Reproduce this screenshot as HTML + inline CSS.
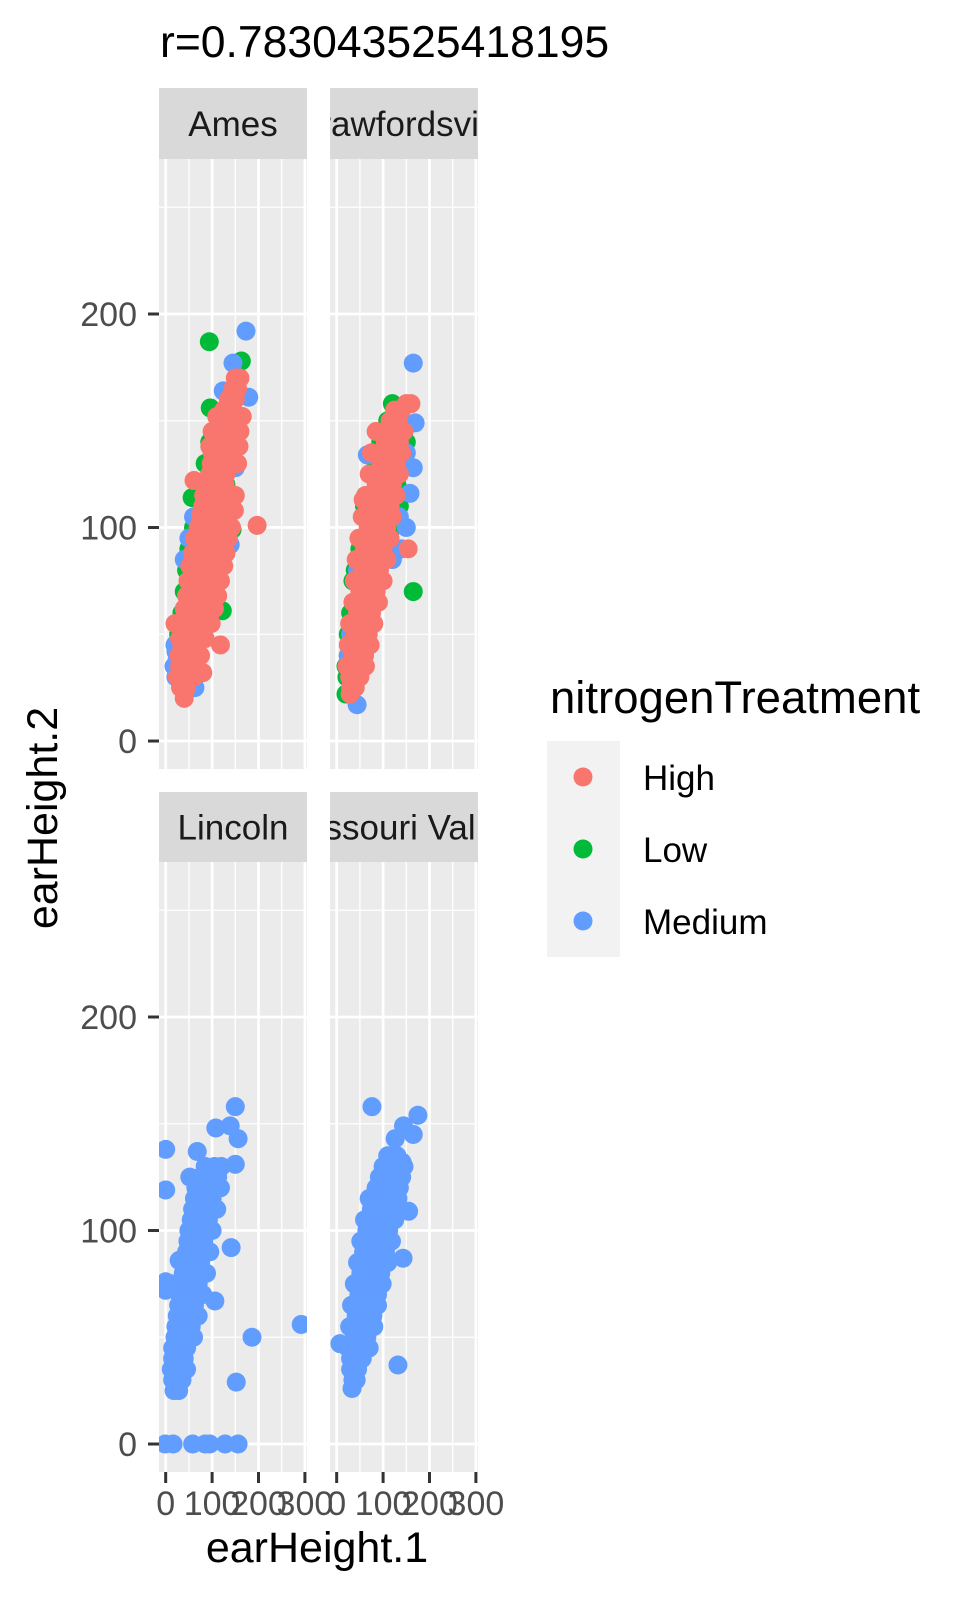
<!DOCTYPE html>
<html><head><meta charset="utf-8"><style>
html,body{margin:0;padding:0;background:#fff;}
svg{display:block;font-family:"Liberation Sans",Arial,sans-serif;}
</style></head><body>
<svg id="chart" width="966" height="1604" viewBox="0 0 966 1604" xmlns="http://www.w3.org/2000/svg">
<text x="160" y="57" font-size="44.5" fill="#000">r=0.783043525418195</text>
<text x="317" y="1562" font-size="43" text-anchor="middle" fill="#000">earHeight.1</text>
<text transform="translate(57,818) rotate(-90)" font-size="43" text-anchor="middle" fill="#000">earHeight.2</text>
<g id="panels"></g>
<g>
<text x="550" y="713" font-size="45.5" fill="#000">nitrogenTreatment</text>
<rect x="547" y="741" width="73" height="216" fill="#f2f2f2"/>
<g><circle cx="583" cy="777" r="9.5" fill="#F8766D"/><text x="643" y="790" font-size="35">High</text></g>
<g><circle cx="583" cy="849" r="9.5" fill="#00BA38"/><text x="643" y="862" font-size="35">Low</text></g>
<g><circle cx="583" cy="921" r="9.5" fill="#619CFF"/><text x="643" y="934" font-size="35">Medium</text></g>
</g>
</svg>
<script>
const facetNames = ["Ames","Crawfordsville","Lincoln","Missouri Valley"];
const xTicks = [0,100,200,300];
const xMinor = [50,150,250];
const yTicks = [0,100,200];
const yMinor = [50,150,250];
const xTickLabels = ["0","100","200","300"];
const yTickLabels = ["0","100","200"];
const seriesNames = ["Low","Medium","High"];
const seriesColors = ["#00BA38","#619CFF","#F8766D"];

// Ames
const amesLowX = [94,163,96,143,122,57,30,28,35,40,45,50,70,90,100,110,60,75,85,95,130,140,135,145,125,110,100];
const amesLowY = [187,178,156,99,61,114,40,50,60,70,80,90,60,70,80,95,100,115,130,140,120,135,150,160,100,75,60];
const amesMedX = [173,145,179,124,139,22,25,20,30,40,50,120,130,110,120,140,63,35,55,60,18,22,135,150];
const amesMedY = [192,177,161,164,92,30,38,45,55,85,95,105,115,140,150,160,25,25,95,105,35,42,110,128];
const amesHighX = [40,32,45,35,50,60,80,30,48,65,38,55,70,35,50,68,118,45,62,80,20,50,70,88,48,68,90,52,72,95,55,78,98,60,80,100,60,85,105,62,88,108,65,90,110,70,95,112,72,98,115,197,75,100,118,80,105,120,82,108,125,61,90,112,128,95,115,130,98,118,135,100,120,138,105,125,140,110,128,142,115,132,145,125,140,135,150,145,155,150,160,
  25,60,28,75,30,85,38,98,40,105,45,112,48,118,52,125,58,130,62,135,70,142,78,148,82,150,85,108,120,155,95,158,100,160,110,165,118,165];
const amesHighY = [20,25,25,30,30,30,32,35,35,35,40,40,40,45,45,45,45,50,50,50,55,55,55,55,60,60,60,65,65,65,70,70,70,75,75,75,80,80,80,85,85,85,90,90,90,95,95,95,100,100,100,101,105,105,105,110,110,110,115,115,115,122,120,120,120,125,125,125,130,130,130,135,135,135,140,140,140,145,145,145,150,150,150,155,155,160,160,165,165,170,170,
  30,30,40,40,48,48,55,55,62,62,68,68,75,75,82,82,88,88,95,95,100,100,108,108,115,115,122,122,130,130,138,138,145,145,152,152];

// Crawfordsville
const crawLowX = [20,22,25,28,30,35,40,50,60,75,85,95,110,120,165,130,140,150,20,25,120,135];
const crawLowY = [22,30,40,50,60,75,80,90,110,125,130,140,150,158,70,120,135,140,35,50,100,110];
const crawMedX = [30,44,25,30,45,55,66,158,165,169,165,145,150,140,120,135,75,22,150];
const crawMedY = [30,17,40,50,80,95,134,116,128,149,177,145,100,90,85,105,100,35,135];
const crawHighX = [29,30,40,28,40,50,32,45,55,35,48,60,38,50,65,40,55,68,42,58,72,45,62,75,48,65,80,50,68,85,52,72,88,55,75,92,58,78,95,60,82,100,154,65,85,105,68,88,108,72,92,112,57,75,95,115,80,100,118,85,105,120,90,108,125,95,112,128,100,118,132,105,122,135,110,128,138,115,132,125,140,150,160,
  22,62,25,72,28,80,35,90,38,100,42,108,48,115,55,120,62,128,70,135,75,140,85,145];
const crawHighY = [22,25,25,30,30,30,35,35,35,40,40,40,45,45,45,50,50,50,55,55,55,60,60,60,65,65,65,70,70,70,75,75,75,80,80,80,85,85,85,90,90,90,90,95,95,95,100,100,100,105,105,105,113,110,110,110,115,115,115,120,120,120,125,125,125,130,130,130,135,135,135,140,140,140,145,145,145,150,150,155,155,158,158,
  35,35,45,45,55,55,65,65,75,75,85,85,95,95,105,105,115,115,125,125,135,135,145,145];

// Lincoln (Medium only)
const lincMedX = [-1,16,58,85,95,128,156,0,0,0,0,150,108,139,156,68,52,150,186,292,152,141,106,29,18,28,15,25,35,12,22,35,45,15,28,40,15,30,45,20,35,50,60,22,38,55,25,40,58,70,28,45,62,30,48,65,80,15,35,52,70,38,55,72,88,40,58,75,45,62,80,95,48,65,82,50,70,88,100,55,72,92,58,78,95,110,62,82,100,65,85,105,118,75,95,112,85,105,120];
const lincMedY = [0,0,0,0,0,0,0,138,119,76,72,158,148,149,143,137,125,131,50,56,29,92,67,86,25,25,30,30,30,35,35,35,35,40,40,40,45,45,45,50,50,50,50,55,55,55,60,60,60,60,65,65,65,70,70,70,70,75,75,75,75,80,80,80,80,85,85,85,90,90,90,90,95,95,95,100,100,100,100,105,105,105,110,110,110,110,115,115,115,120,120,120,120,125,125,125,130,130,130];

// Missouri Valley (Medium only)
const mvMedX = [33,7,132,76,175,165,126,144,141,155,143,35,42,30,45,30,42,55,32,48,60,38,52,65,40,58,72,42,62,78,45,65,82,48,68,88,50,72,92,52,75,95,55,78,100,58,82,105,62,85,110,65,88,112,70,92,118,75,98,122,80,102,128,85,108,135,92,115,140,100,120,145,110,130,
  25,70,28,80,32,88,38,98,45,110,52,118,60,125,70,132];
const mvMedY = [26,47,37,158,154,145,143,149,132,109,87,30,30,35,35,40,40,40,45,45,45,50,50,50,55,55,55,60,60,60,65,65,65,70,70,70,75,75,75,80,80,80,85,85,85,90,90,90,95,95,95,100,100,100,105,105,105,110,110,110,115,115,115,120,120,120,125,125,125,130,130,130,135,135,
  45,45,55,55,65,65,75,75,85,85,95,95,105,105,115,115];

const facetSeries = [
  [[amesLowX,amesLowY],[amesMedX,amesMedY],[amesHighX,amesHighY]],
  [[crawLowX,crawLowY],[crawMedX,crawMedY],[crawHighX,crawHighY]],
  [[[],[]],[lincMedX,lincMedY],[[],[]]],
  [[[],[]],[mvMedX,mvMedY],[[],[]]]
];

const NS = "http://www.w3.org/2000/svg";
const panelsG = document.getElementById("panels");
const PW = 148, PH = 610;
const panelLefts = [159, 330];
const panelTops = [159, 862];
const stripTops = [88, 792];
const XMIN = -14.4, XMAX = 304.5, YMIN = -13.1, YMAX = 272.6;
function sx(v, left){ return left + (v - XMIN) / (XMAX - XMIN) * PW; }
function sy(v, top){ return top + PH - (v - YMIN) / (YMAX - YMIN) * PH; }
function mk(tag, attrs, parent){
  const e = document.createElementNS(NS, tag);
  for (const k in attrs) e.setAttribute(k, attrs[k]);
  parent.appendChild(e);
  return e;
}

facetNames.forEach((name, fi) => {
  const col = fi % 2, row = Math.floor(fi / 2);
  const L = panelLefts[col], T = panelTops[row], ST = stripTops[row];
  const g = mk("g", {}, panelsG);
  
  
  const clipId = "clip-strip-" + fi;
  const cp = mk("clipPath", {id: clipId}, g);
  mk("rect", {x: L, y: ST, width: PW, height: T - ST}, cp);
  const strip = mk("rect", {x: L, y: ST, width: PW, height: T - ST, fill: "#d9d9d9"}, g);
  
  
  const st = mk("text", {x: L + PW/2, y: ST + (T-ST)/2 + 12.5, "font-size": 35, "text-anchor": "middle", fill: "#1a1a1a", "clip-path": "url(#" + clipId + ")"}, g);
  st.textContent = name;
  
  
  const bg = mk("rect", {x: L, y: T, width: PW, height: PH, fill: "#ebebeb"}, g);
  
  
  const pclip = "clip-panel-" + fi;
  const cp2 = mk("clipPath", {id: pclip}, g);
  mk("rect", {x: L, y: T, width: PW, height: PH}, cp2);
  const gg = mk("g", {"clip-path": "url(#" + pclip + ")"}, g);
  yMinor.forEach(v => { const y = sy(v, T); mk("line", {x1: L, x2: L+PW, y1: y, y2: y, stroke: "#fff", "stroke-width": 1.3}, gg); });
  xMinor.forEach(v => { const x = sx(v, L); mk("line", {x1: x, x2: x, y1: T, y2: T+PH, stroke: "#fff", "stroke-width": 1.3}, gg); });
  yTicks.forEach(v => { const y = sy(v, T); mk("line", {x1: L, x2: L+PW, y1: y, y2: y, stroke: "#fff", "stroke-width": 2.7}, gg); });
  xTicks.forEach(v => { const x = sx(v, L); mk("line", {x1: x, x2: x, y1: T, y2: T+PH, stroke: "#fff", "stroke-width": 2.7}, gg); });
  facetSeries[fi].forEach((s, si) => {
    const xs = s[0], ys = s[1];
    for (let i = 0; i < xs.length; i++) {
      const c = mk("circle", {cx: sx(xs[i], L), cy: sy(ys[i], T), r: 9.5, fill: seriesColors[si]}, gg);
      
      
    }
  });
  if (col === 0) {
    yTicks.forEach((v, i) => {
      const y = sy(v, T);
      mk("line", {x1: L - 11, x2: L, y1: y, y2: y, stroke: "#333", "stroke-width": 3}, g);
      const t = mk("text", {x: L - 22, y: y + 12, "font-size": 34, "text-anchor": "end", fill: "#4d4d4d"}, g);
      t.textContent = yTickLabels[i];
      
      
    });
  }
  if (row === 1) {
    xTicks.forEach((v, i) => {
      const x = sx(v, L);
      mk("line", {x1: x, x2: x, y1: T + PH, y2: T + PH + 11, stroke: "#333", "stroke-width": 3}, g);
      const t = mk("text", {x: x, y: 1515, "font-size": 34, "text-anchor": "middle", fill: "#4d4d4d"}, g);
      t.textContent = xTickLabels[i];
      
      
    });
  }
});
</script>
</body></html>
